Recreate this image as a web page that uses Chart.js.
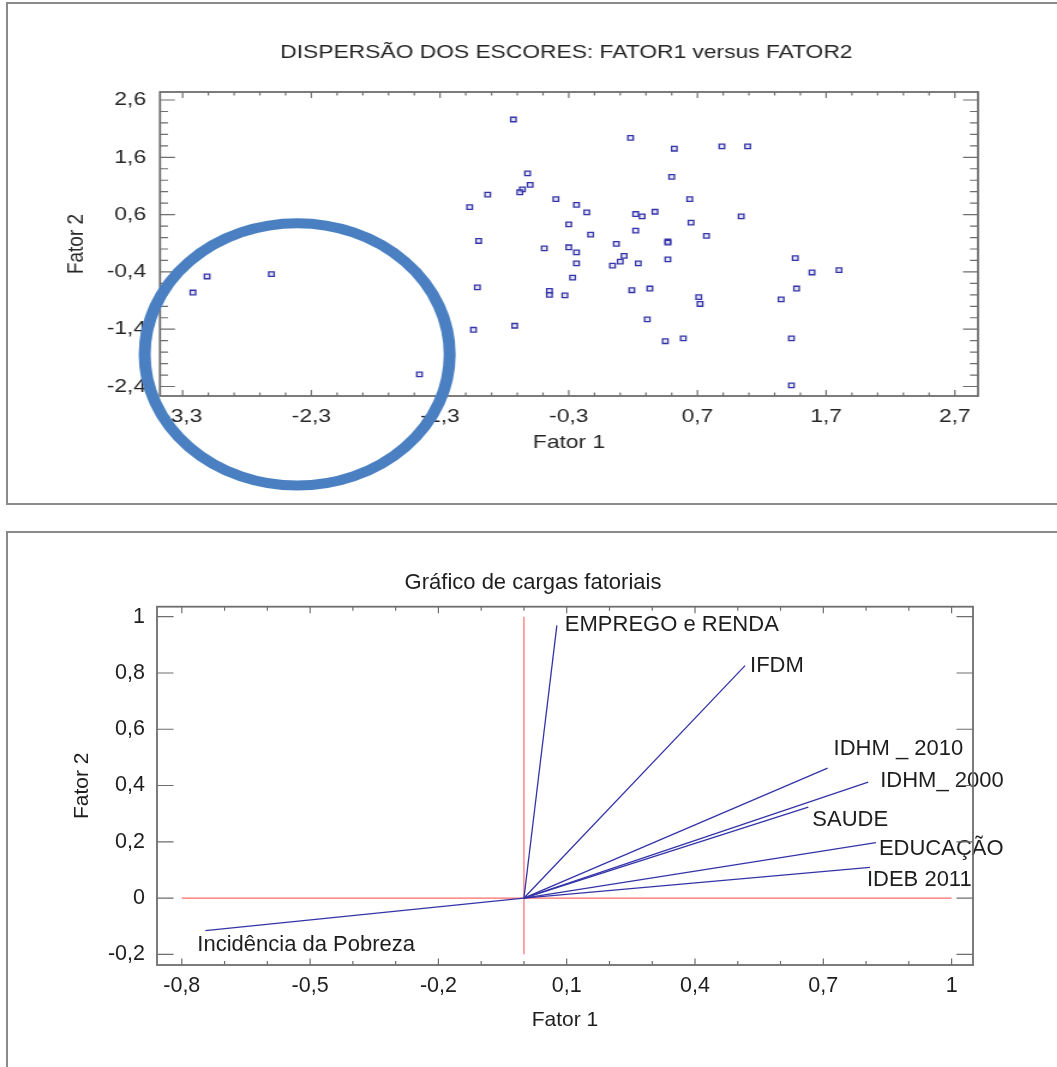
<!DOCTYPE html>
<html lang="pt">
<head>
<meta charset="utf-8">
<title>Escores e cargas fatoriais</title>
<script src="https://cdn.jsdelivr.net/npm/chart.js@4.4.1/dist/chart.umd.min.js"></script>
<style>
  html, body { margin: 0; padding: 0; background: #fff; }
  body { position: relative; width: 1057px; height: 1067px; overflow: hidden; }
  .box { position: absolute; left: 6px; width: 1120px; box-sizing: border-box; border: 2px solid #8a8a8a; }
  #boxTop { top: 2px; height: 503px; }
  #boxBottom { top: 531px; height: 600px; }
  #scoreChart { position: absolute; left: 0; top: 0; transform-origin: 0 0; }
  #loadChart { position: absolute; left: 0; top: 531px; }
</style>
</head>
<body>
<div class="box" id="boxTop"></div>
<div class="box" id="boxBottom"></div>
<canvas id="scoreChart" width="881" height="505"></canvas>
<canvas id="loadChart" width="1057" height="536"></canvas>
<script>
// --- scores: Fator 1 vs Fator 2 ---
const fator1Scores = [
  -3.22, -3.11, -2.61, -1.46,
  -0.73, 0.18, 0.52, 0.89, 1.09, -0.62, 0.50, -0.60, -0.66, -0.68,
  -0.93, -1.07, -0.40, 0.64, -0.24, -0.16, 0.22, 0.27, 0.37, 1.04,
  -0.30, 0.22, 0.65, -0.13, 0.77, -1.00, 0.07, 0.47, 0.47, -0.49,
  -0.30, -0.24, 0.13, 0.10, 0.04, 0.24, -0.24, 0.47, -0.27, 1.46,
  1.59, 1.80, -1.01, -0.45, -0.45, -0.33, 0.19, 0.33, 0.71, 0.72,
  1.47, 1.35, 0.31, -1.04, -0.72, 0.45, 0.59, 1.43, 1.43
];
const fator2Scores = [
  -0.76, -0.48, -0.44, -2.19,
  2.26, 1.94, 1.75, 1.79, 1.79, 1.32, 1.26, 1.12, 1.04, 0.99,
  0.95, 0.73, 0.87, 0.87, 0.77, 0.64, 0.61, 0.57, 0.65, 0.57,
  0.43, 0.32, 0.46, 0.25, 0.23, 0.14, 0.09, 0.13, 0.11, 0.01,
  0.03, -0.06, -0.12, -0.22, -0.29, -0.25, -0.25, -0.18, -0.50, -0.16,
  -0.41, -0.37, -0.67, -0.73, -0.80, -0.81, -0.72, -0.69, -0.84, -0.96,
  -0.69, -0.88, -1.23, -1.41, -1.34, -1.61, -1.56, -1.56, -2.38
];
const scoreTicksX = [-3.3, -2.3, -1.3, -0.3, 0.7, 1.7, 2.7];
const scoreTicksY = [2.6, 1.6, 0.6, -0.4, -1.4, -2.4];
// circled group, in factor units (centre and half-axes)
const groupCenter = [-2.41, -1.84];
const groupRadius = [1.185, 2.29];

// --- factor loadings ---
const variables = ['EMPREGO e RENDA', 'IFDM', 'IDHM _ 2010', 'IDHM_ 2000', 'SAUDE', 'EDUCAÇÃO', 'IDEB 2011', 'Incidência da Pobreza'];
const fator1Loadings = [0.077, 0.517, 0.710, 0.805, 0.665, 0.823, 0.809, -0.745];
const fator2Loadings = [0.969, 0.826, 0.462, 0.412, 0.323, 0.197, 0.109, -0.116];
const zeroLineX = [-0.8, 1];
const zeroLineY = [-0.2, 1];
const loadTicksX = [-0.8, -0.5, -0.2, 0.1, 0.4, 0.7, 1];
const loadTicksY = [1, 0.8, 0.6, 0.4, 0.2, 0, -0.2];

// label placement next to each arrow tip (px)
const labelOffsets = [[8, 0], [5, 0], [6, -19], [12, -1], [4, 13], [3, 6], [-3, 13], [-8, 14]];

const STRETCH = 1.2; // the score panel text is wide, so that canvas is stretched sideways
const sans = "'Liberation Sans', Arial, sans-serif";
const comma = v => String(Math.round(v * 10) / 10).replace('.', ',');

document.getElementById('scoreChart').style.transform = 'scaleX(' + STRETCH + ')';

// major + minor ticks pointing inward on all four sides of the plot frame
function eachTick(scale, sub, fn) {
  const vals = scale.ticks.map(t => t.value);
  const step = Math.abs(vals[1] - vals[0]) / sub;
  const lo = Math.min(scale.min, scale.max), hi = Math.max(scale.min, scale.max);
  const base = vals[0];
  for (let k = Math.ceil((lo - base) / step - 1e-9); base + k * step <= hi + 1e-9; k++) {
    fn(scale.getPixelForValue(base + k * step), Math.abs(k % sub) === 0);
  }
}

const framePlugin = {
  id: 'frame',
  afterDraw(chart, args, o) {
    const { ctx, chartArea: a, scales: { x, y } } = chart;
    ctx.save();
    ctx.strokeStyle = o.color;
    ctx.lineWidth = o.lineWidth;
    ctx.strokeRect(a.left, a.top, a.right - a.left, a.bottom - a.top);
    ctx.lineWidth = o.tickWidth;
    ctx.beginPath();
    eachTick(x, o.xSub, (px, major) => {
      const len = major ? o.xMajor : o.xMinor;
      ctx.moveTo(px, a.bottom); ctx.lineTo(px, a.bottom - len);
      ctx.moveTo(px, a.top); ctx.lineTo(px, a.top + len);
    });
    eachTick(y, o.ySub, (py, major) => {
      const len = major ? o.yMajor : o.yMinor;
      ctx.moveTo(a.left, py); ctx.lineTo(a.left + len, py);
      ctx.moveTo(a.right, py); ctx.lineTo(a.right - len, py);
    });
    ctx.stroke();
    ctx.restore();
  }
};

const headlinePlugin = {
  id: 'headline',
  afterDraw(chart, args, o) {
    const { ctx } = chart;
    ctx.save();
    ctx.font = o.font;
    ctx.fillStyle = o.color;
    ctx.textAlign = 'center';
    ctx.textBaseline = 'middle';
    ctx.fillText(o.text, o.x, o.y);
    ctx.restore();
  }
};

const groupPlugin = {
  id: 'group',
  afterDraw(chart, args, o) {
    const { ctx, scales: { x, y } } = chart;
    const cx = x.getPixelForValue(groupCenter[0]);
    const cy = y.getPixelForValue(groupCenter[1]);
    const rx = Math.abs(x.getPixelForValue(groupCenter[0] + groupRadius[0]) - cx);
    const ry = Math.abs(y.getPixelForValue(groupCenter[1] + groupRadius[1]) - cy);
    ctx.save();
    ctx.strokeStyle = o.color;
    ctx.lineWidth = o.width;
    ctx.beginPath();
    ctx.ellipse(cx, cy, rx, ry, 0, 0, Math.PI * 2);
    ctx.stroke();
    ctx.restore();
  }
};

const tagPlugin = {
  id: 'tags',
  afterDatasetsDraw(chart, args, o) {
    const { ctx } = chart;
    ctx.save();
    ctx.font = o.font;
    ctx.fillStyle = o.color;
    ctx.textAlign = 'left';
    ctx.textBaseline = 'middle';
    variables.forEach((name, i) => {
      const tip = chart.getDatasetMeta(i).data[1];
      ctx.fillText(name, tip.x + labelOffsets[i][0], tip.y + labelOffsets[i][1]);
    });
    ctx.restore();
  }
};

// ---------- top: score scatter ----------
new Chart(document.getElementById('scoreChart'), {
  type: 'scatter',
  data: {
    datasets: [{
      data: fator1Scores.map((v, i) => ({ x: v, y: fator2Scores[i] })),
      pointStyle: 'rect',
      pointRadius: 3.2,
      pointBorderWidth: 1.3,
      pointBorderColor: '#3434a8',
      pointBackgroundColor: 'rgba(215,215,245,0.6)'
    }]
  },
  options: {
    responsive: false,
    animation: false,
    events: [],
    layout: { padding: { left: 40, right: 66, top: 92, bottom: 49 } },
    scales: {
      x: {
        type: 'linear', min: -3.476, max: 2.88,
        afterBuildTicks: s => { s.ticks = scoreTicksX.map(v => ({ value: v })); },
        afterFit: s => { s.height = 60; },
        grid: { display: false, drawTicks: false },
        border: { display: false },
        ticks: { padding: 9, autoSkip: false, maxRotation: 0, color: '#262626', font: { family: sans, size: 19 }, callback: comma },
        title: { display: true, text: 'Fator 1', color: '#262626', font: { family: sans, size: 19 }, padding: { top: 0, bottom: 1.6 } }
      },
      y: {
        type: 'linear', min: -2.566, max: 2.74,
        afterBuildTicks: s => { s.ticks = scoreTicksY.map(v => ({ value: v })); },
        afterFit: s => { s.width = 93.3; },
        grid: { display: false, drawTicks: false },
        border: { display: false },
        ticks: { padding: 11.6, autoSkip: false, color: '#262626', font: { family: sans, size: 19 }, callback: comma },
        title: { display: true, text: 'Fator 2', color: '#262626', font: { family: sans, size: 19 }, padding: { top: 12.3, bottom: 0 } }
      }
    },
    plugins: {
      legend: { display: false },
      tooltip: { enabled: false },
      frame: { color: '#6e6e6e', lineWidth: 1.8, tickWidth: 1.2, xSub: 5, ySub: 5, xMajor: 6, xMinor: 3.5, yMajor: 12.5, yMinor: 6.7 },
      headline: { text: 'DISPERSÃO DOS ESCORES: FATOR1 versus FATOR2', x: 472, y: 53, font: '19px ' + sans, color: '#262626' },
      group: { color: '#4a80c2', width: 10 }
    }
  },
  plugins: [framePlugin, headlinePlugin, groupPlugin]
});

// ---------- bottom: loadings ----------
const loadingSets = variables.map((name, i) => ({
  label: name,
  data: [{ x: 0, y: 0 }, { x: fator1Loadings[i], y: fator2Loadings[i] }],
  showLine: true,
  borderColor: '#3434a8',
  borderWidth: 1.3,
  pointRadius: 0
}));
const zeroSets = [
  { data: zeroLineX.map(v => ({ x: v, y: 0 })), showLine: true, borderColor: '#ff6b6b', borderWidth: 1.2, pointRadius: 0 },
  { data: zeroLineY.map(v => ({ x: 0, y: v })), showLine: true, borderColor: '#ff6b6b', borderWidth: 1.2, pointRadius: 0 }
];

new Chart(document.getElementById('loadChart'), {
  type: 'scatter',
  data: { datasets: loadingSets.concat(zeroSets) },
  options: {
    responsive: false,
    animation: false,
    events: [],
    layout: { padding: { left: 60, right: 84, top: 75.7, bottom: 32 } },
    scales: {
      x: {
        type: 'linear', min: -0.858, max: 1.05,
        afterBuildTicks: s => { s.ticks = loadTicksX.map(v => ({ value: v })); },
        afterFit: s => { s.height = 70; },
        grid: { display: false, drawTicks: false },
        border: { display: false },
        ticks: { padding: 8, autoSkip: false, maxRotation: 0, color: '#1e1e1e', font: { family: sans, size: 21.5 }, callback: comma },
        title: { display: true, text: 'Fator 1', color: '#1e1e1e', font: { family: sans, size: 21 }, padding: { top: 0, bottom: 2.4 } }
      },
      y: {
        type: 'linear', min: -0.238, max: 1.0356,
        afterBuildTicks: s => { s.ticks = loadTicksY.map(v => ({ value: v })); },
        afterFit: s => { s.width = 97; },
        grid: { display: false, drawTicks: false },
        border: { display: false },
        ticks: { padding: 12, autoSkip: false, color: '#1e1e1e', font: { family: sans, size: 21.5 }, callback: comma },
        title: { display: true, text: 'Fator 2', color: '#1e1e1e', font: { family: sans, size: 21 }, padding: { top: 9.4, bottom: 0 } }
      }
    },
    plugins: {
      legend: { display: false },
      tooltip: { enabled: false },
      frame: { color: '#6e6e6e', lineWidth: 1.8, tickWidth: 1.2, xSub: 3, ySub: 1, xMajor: 6.5, xMinor: 4, yMajor: 16.5, yMinor: 16.5 },
      headline: { text: 'Gráfico de cargas fatoriais', x: 533, y: 52, font: '22px ' + sans, color: '#1e1e1e' },
      tags: { font: '22px ' + sans, color: '#1e1e1e' }
    }
  },
  plugins: [framePlugin, headlinePlugin, tagPlugin]
});
</script>
</body>
</html>
